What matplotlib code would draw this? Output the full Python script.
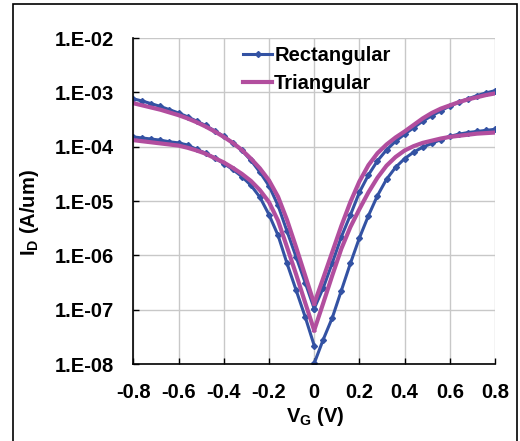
import numpy as np
import matplotlib
matplotlib.use("Agg")
import matplotlib.pyplot as plt
from matplotlib.patches import Rectangle

plt.rcParams["font.family"] = ["Liberation Sans", "DejaVu Sans"]
plt.rcParams["font.weight"] = "bold"
plt.rcParams["mathtext.fontset"] = "custom"
plt.rcParams["mathtext.rm"] = "Liberation Sans:bold"
plt.rcParams["mathtext.it"] = "Liberation Sans:bold"
plt.rcParams["mathtext.default"] = "rm"

# -----------------------------
# Data (log10 of I_D)
# -----------------------------

v_left = [-0.80, -0.76, -0.72, -0.68, -0.64, -0.60, -0.56, -0.52, -0.48, -0.44, -0.40,
          -0.36, -0.32, -0.28, -0.24, -0.20, -0.16, -0.12, -0.08, -0.04, 0.00]
v_right = [0.00, 0.04, 0.08, 0.12, 0.16, 0.20, 0.24, 0.28, 0.32, 0.36, 0.40,
           0.44, 0.48, 0.52, 0.56, 0.60, 0.64, 0.68, 0.72, 0.76, 0.80]

rect_hi_left = [-3.12, -3.16, -3.21, -3.26, -3.32, -3.38, -3.45, -3.53, -3.61, -3.71, -3.81,
                -3.93, -4.07, -4.25, -4.47, -4.72, -5.08, -5.56, -6.03, -6.50, -6.98]
rect_lo_left = [-3.82, -3.84, -3.86, -3.88, -3.91, -3.93, -3.97, -4.05, -4.12, -4.21, -4.31,
                -4.42, -4.55, -4.71, -4.93, -5.25, -5.63, -6.15, -6.64, -7.13, -7.66]
rect_hi_right = [-6.98, -6.60, -6.14, -5.66, -5.26, -4.84, -4.52, -4.26, -4.06, -3.90, -3.77,
                 -3.65, -3.53, -3.43, -3.34, -3.25, -3.18, -3.12, -3.06, -3.01, -2.97]
rect_lo_right = [-7.99, -7.55, -7.15, -6.65, -6.15, -5.68, -5.27, -4.90, -4.60, -4.38, -4.22,
                 -4.10, -4.01, -3.94, -3.87, -3.81, -3.77, -3.74, -3.72, -3.70, -3.68]

tri_hi_left = [-3.20, -3.24, -3.28, -3.32, -3.37, -3.42, -3.48, -3.55, -3.63, -3.72, -3.82,
               -3.93, -4.06, -4.22, -4.40, -4.62, -4.92, -5.35, -5.85, -6.37, -6.89]
tri_lo_left = [-3.88, -3.90, -3.92, -3.94, -3.96, -3.98, -4.02, -4.07, -4.13, -4.21, -4.29,
               -4.39, -4.50, -4.63, -4.80, -5.02, -5.36, -5.85, -6.35, -6.87, -7.38]
tri_hi_right = [-6.89, -6.42, -5.94, -5.46, -5.02, -4.64, -4.34, -4.12, -3.96, -3.83, -3.72,
                -3.60, -3.48, -3.38, -3.30, -3.24, -3.18, -3.13, -3.09, -3.05, -3.02]
tri_lo_right = [-7.38, -6.88, -6.37, -5.88, -5.48, -5.15, -4.84, -4.57, -4.35, -4.19, -4.07,
                -3.99, -3.93, -3.89, -3.85, -3.82, -3.80, -3.78, -3.76, -3.75, -3.74]

x_ticks = [-0.8, -0.6, -0.4, -0.2, 0, 0.2, 0.4, 0.6, 0.8]
x_tick_labels = ["-0.8", "-0.6", "-0.4", "-0.2", "0", "0.2", "0.4", "0.6", "0.8"]
y_ticks = [1e-8, 1e-7, 1e-6, 1e-5, 1e-4, 1e-3, 1e-2]
y_tick_labels = ["1.E-08", "1.E-07", "1.E-06", "1.E-05", "1.E-04", "1.E-03", "1.E-02"]

blue = "#3352a3"
magenta = "#b24e9e"

# -----------------------------
# Plot
# -----------------------------

fig = plt.figure(figsize=(5.2, 4.41), dpi=100)
ax = fig.add_axes([0.2564, 0.1746, 0.6956, 0.7392])

rect_arms = [(v_left, rect_hi_left), (v_left, rect_lo_left),
             (v_right, rect_hi_right), (v_right, rect_lo_right)]
tri_arms = [(v_left, tri_hi_left), (v_left, tri_lo_left),
            (v_right, tri_hi_right), (v_right, tri_lo_right)]

for i, (v, lg) in enumerate(rect_arms):
    ax.plot(v, 10 ** np.array(lg), color=blue, lw=2.2, marker="D", ms=3,
            label="Rectangular" if i == 0 else None, zorder=3)

for i, (v, lg) in enumerate(tri_arms):
    ax.plot(v, 10 ** np.array(lg), color=magenta, lw=3.0,
            label="Triangular" if i == 0 else None, zorder=4)

ax.set_yscale("log")
ax.set_xlim(-0.8, 0.8)
ax.set_ylim(1e-8, 1e-2)
ax.set_xticks(x_ticks)
ax.set_xticklabels(x_tick_labels)
ax.set_yticks(y_ticks)
ax.set_yticklabels(y_tick_labels)
ax.yaxis.set_minor_locator(matplotlib.ticker.NullLocator())

ax.grid(True, color="#c8c8c8", lw=1.0, zorder=0)
ax.set_axisbelow(True)
for side in ["top", "right"]:
    ax.spines[side].set_visible(False)
for side in ["left", "bottom"]:
    ax.spines[side].set_linewidth(1.2)
    ax.spines[side].set_zorder(5)

ax.tick_params(direction="in", length=4, width=1.0, labelsize=14.5, pad=14)
ax.tick_params(axis="y", pad=14)
for lbl in ax.get_xticklabels() + ax.get_yticklabels():
    lbl.set_fontweight("bold")

ax.set_xlabel("V$_{G}$ (V)", fontsize=14.5, fontweight="bold")
ax.set_ylabel("I$_{D}$ (A/um)", fontsize=14.5, fontweight="bold")
ax.xaxis.set_label_coords(0.502, -0.125)
ax.yaxis.set_label_coords(-0.255, 0.465)

leg = ax.legend(loc="upper left", bbox_to_anchor=(0.303, 0.975), frameon=False,
                fontsize=14.5, handlelength=1.45, handletextpad=0.1,
                borderpad=0, borderaxespad=0, labelspacing=0.45)
for t in leg.get_texts():
    t.set_fontweight("bold")

# border round the figure
fig.patches.append(Rectangle((13 / 520, -0.05), 504 / 520, 1.05 - 4 / 441,
                             transform=fig.transFigure, fill=False,
                             edgecolor="black", lw=1.2, clip_on=False))

fig.savefig("out.png", dpi=100)
